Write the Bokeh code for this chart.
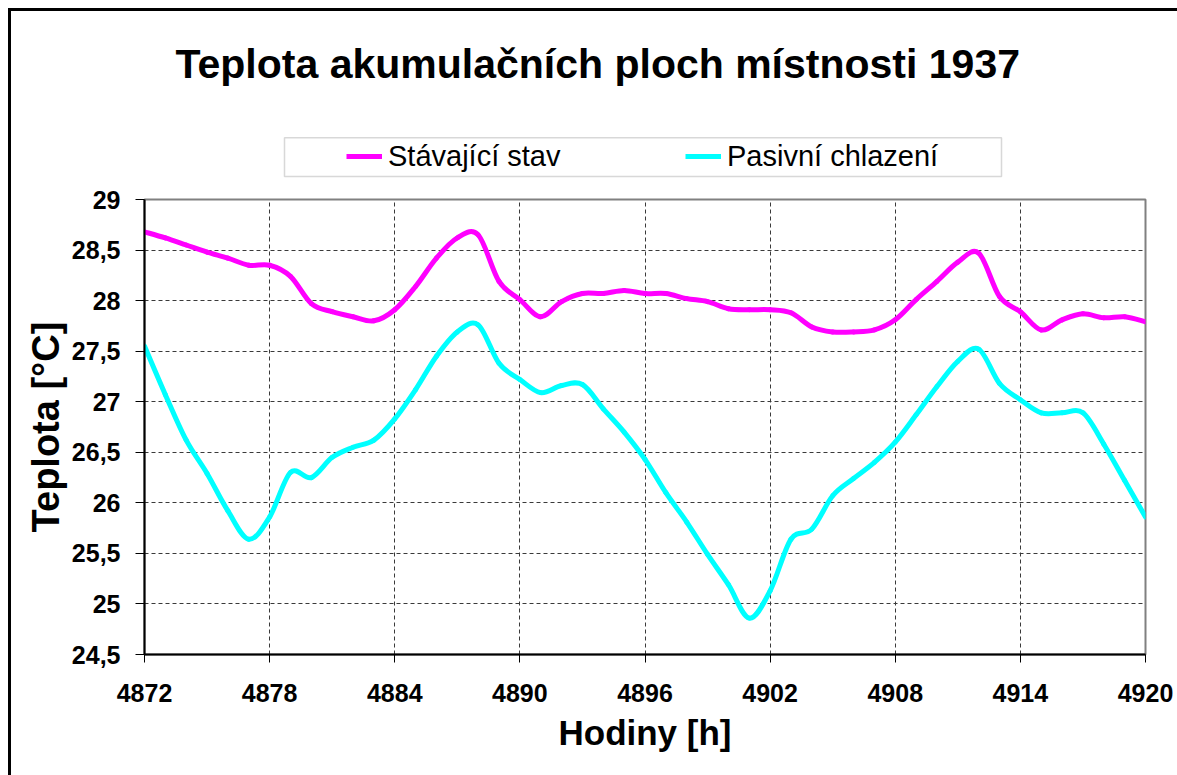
from bokeh.plotting import figure
from bokeh.layouts import column
from bokeh.models import FixedTicker, Legend, LegendItem, Label, BoxAnnotation, Range1d
from bokeh.embed import file_html
from bokeh.resources import INLINE

# ---------------- data ----------------
hours = list(range(4872, 4921))
stavajici_stav = [
    28.68, 28.62, 28.55, 28.48, 28.42, 28.35, 28.35, 28.24, 27.97, 27.89,
    27.84, 27.80, 27.91, 28.14, 28.42, 28.62, 28.65, 28.19, 28.01, 27.84,
    27.99, 28.07, 28.07, 28.10, 28.07, 28.07, 28.02, 27.99, 27.92, 27.91,
    27.91, 27.88, 27.74, 27.69, 27.69, 27.71, 27.81, 28.01, 28.19, 28.38,
    28.47, 28.04, 27.89, 27.71, 27.81, 27.87, 27.83, 27.84, 27.79,
]
pasivni_chlazeni = [
    27.55, 27.07, 26.62, 26.29, 25.92, 25.64, 25.86, 26.30, 26.25, 26.45,
    26.55, 26.62, 26.83, 27.12, 27.45, 27.69, 27.76, 27.38, 27.22, 27.09,
    27.16, 27.17, 26.93, 26.70, 26.43, 26.10, 25.81, 25.49, 25.19, 24.86,
    25.13, 25.64, 25.74, 26.07, 26.24, 26.40, 26.60, 26.87, 27.15, 27.40,
    27.52, 27.18, 27.02, 26.89, 26.89, 26.89, 26.58, 26.22, 25.86,
]
series_names = ["Stávající stav", "Pasivní chlazení"]
series_colors = ["#FF00FF", "#00FFFF"]
x_ticks = list(range(4872, 4921, 6))
y_ticks = [24.5, 25.0, 25.5, 26.0, 26.5, 27.0, 27.5, 28.0, 28.5, 29.0]
y_tick_labels = ["24,5", "25", "25,5", "26", "26,5", "27", "27,5", "28", "28,5", "29"]
title_text = "Teplota akumulačních ploch místnosti 1937"
x_label = "Hodiny [h]"
y_label = "Teplota [°C]"

FONT = "Liberation Sans"
W = 1166
HEAD_H = 170
MAIN_H = 594
MB_LEFT, MB_RIGHT = 133, 32
ORIGIN = 11  # page offset of the canvases (8px margin + 3px border)


def smooth_segments(xs, ys):
    """Cubic Bezier pieces through the data points (smoothed line, like the source)."""
    n = len(xs)
    out = {k: [] for k in ("x0", "y0", "x1", "y1", "cx0", "cy0", "cx1", "cy1")}
    for i in range(n - 1):
        xp, yp = (xs[i - 1], ys[i - 1]) if i > 0 else (xs[i], ys[i])
        xn, yn = (xs[i + 2], ys[i + 2]) if i + 2 < n else (xs[i + 1], ys[i + 1])
        out["x0"].append(xs[i]); out["y0"].append(ys[i])
        out["x1"].append(xs[i + 1]); out["y1"].append(ys[i + 1])
        out["cx0"].append(xs[i] + (xs[i + 1] - xp) / 6.0)
        out["cy0"].append(ys[i] + (ys[i + 1] - yp) / 6.0)
        out["cx1"].append(xs[i + 1] - (xn - xs[i]) / 6.0)
        out["cy1"].append(ys[i + 1] - (yn - ys[i]) / 6.0)
    return out


# ---------------- header (title + legend) ----------------
# header frame is aligned with the chart frame; its x units are page pixels
frame_left = ORIGIN + MB_LEFT
frame_right = ORIGIN + W - MB_RIGHT
head = figure(width=W, height=HEAD_H,
              x_range=Range1d(frame_left, frame_right), y_range=Range1d(0, HEAD_H),
              output_backend="svg", toolbar_location=None,
              min_border=0, min_border_top=0, min_border_bottom=0,
              background_fill_color="white", border_fill_color="white")
head.axis.visible = False
head.grid.visible = False
head.outline_line_color = None

head.add_layout(Label(x=175, y=117.7, text=title_text, text_font=FONT,
                      text_font_size="41px", text_font_style="bold",
                      text_align="left", text_baseline="alphabetic", text_color="black"))
head.add_layout(BoxAnnotation(left=284, right=1001, bottom=5, top=43.7,
                              fill_color="white", fill_alpha=1,
                              line_color="#7f7f7f", line_width=1.5))

# legend keys: the same series drawn in the header (outside its visible range)
keys = [head.line(hours, vals, line_color=c, line_width=5)
        for vals, c in ((stavajici_stav, series_colors[0]), (pasivni_chlazeni, series_colors[1]))]
legend = Legend(
    items=[LegendItem(label=series_names[0], renderers=[keys[0]]),
           LegendItem(label=series_names[1], renderers=[keys[1]])],
    orientation="horizontal", location=(202, 8),
    padding=0, margin=0, spacing=122,
    glyph_width=36, glyph_height=34, label_height=34, label_width=175, label_standoff=6,
    label_text_font=FONT, label_text_font_size="29px", label_text_color="black",
    border_line_alpha=0, background_fill_alpha=0,
)
head.add_layout(legend)

# ---------------- main chart ----------------
p = figure(
    width=W, height=MAIN_H,
    x_range=(x_ticks[0], x_ticks[-1]), y_range=(y_ticks[0], y_ticks[-1]),
    output_backend="svg", toolbar_location=None,
    min_border_left=MB_LEFT, min_border_right=MB_RIGHT, min_border_top=18, min_border_bottom=121,
    background_fill_color="white", border_fill_color="white",
)
p.outline_line_color = "#808080"
p.outline_line_width = 2

p.xaxis.ticker = FixedTicker(ticks=x_ticks)
p.yaxis.ticker = FixedTicker(ticks=y_ticks)
p.yaxis.major_label_overrides = {t: s for t, s in zip(y_ticks, y_tick_labels)}
for ax in (p.xaxis, p.yaxis):
    ax.axis_line_color = "black"
    ax.axis_line_width = 2
    ax.major_tick_line_color = "black"
    ax.major_tick_line_width = 1
    ax.major_tick_in = 0
    ax.minor_tick_line_color = None
    ax.major_label_text_font = FONT
    ax.major_label_text_font_style = "bold"
    ax.major_label_text_font_size = "25px"
    ax.major_label_text_color = "black"
    ax.axis_label_text_font = FONT
    ax.axis_label_text_font_style = "bold"
    ax.axis_label_text_color = "black"
p.xaxis.major_tick_out = 8
p.yaxis.major_tick_out = 9
p.xaxis.major_label_standoff = 21
p.yaxis.major_label_standoff = 15
p.xaxis.axis_label = x_label
p.yaxis.axis_label = y_label
p.xaxis.axis_label_text_font_size = "35px"
p.yaxis.axis_label_text_font_size = "38px"
p.xaxis.axis_label_standoff = 8
p.yaxis.axis_label_standoff = 2

for g in (p.xgrid, p.ygrid):
    g.grid_line_color = "#3a3a3a"
    g.grid_line_width = 1
    g.grid_line_dash = "4 3"

for vals, col in ((stavajici_stav, series_colors[0]), (pasivni_chlazeni, series_colors[1])):
    seg = smooth_segments(hours, vals)
    p.bezier(x0=seg["x0"], y0=seg["y0"], x1=seg["x1"], y1=seg["y1"],
             cx0=seg["cx0"], cy0=seg["cy0"], cx1=seg["cx1"], cy1=seg["cy1"],
             line_color=col, line_width=5, line_cap="round")

layout = column(head, p, spacing=0)
layout.styles = {"margin-left": "8px", "margin-top": "8px",
                 "border-left": "3px solid black", "border-top": "3px solid black"}

open("out.html", "w").write(file_html(layout, INLINE))
